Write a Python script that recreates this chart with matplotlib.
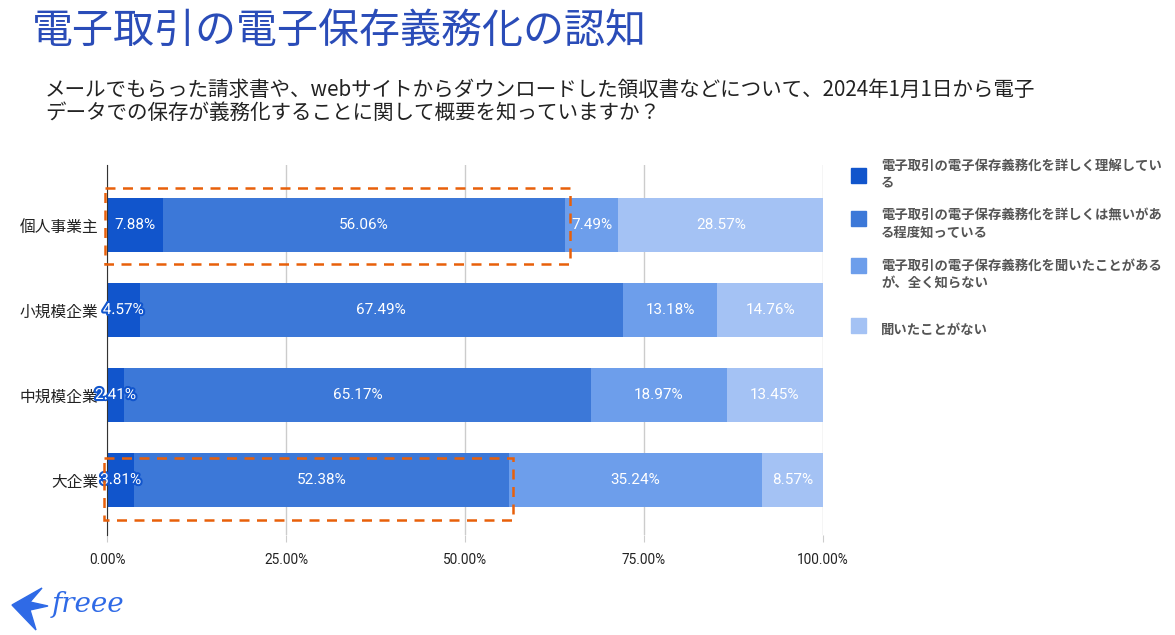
import matplotlib
matplotlib.use("Agg")
import matplotlib.pyplot as plt
import matplotlib.patheffects as pe
from matplotlib.patches import Rectangle, Polygon
import numpy as np

plt.rcParams['font.family'] = ['Noto Sans CJK JP', 'DejaVu Sans']

categories = ["個人事業主", "小規模企業", "中規模企業", "大企業"]
series_names = [
    "電子取引の電子保存義務化を詳しく理解してい\nる",
    "電子取引の電子保存義務化を詳しくは無いがあ\nる程度知っている",
    "電子取引の電子保存義務化を聞いたことがある\nが、全く知らない",
    "聞いたことがない",
]
values = [
    [7.88, 4.57, 2.41, 3.81],
    [56.06, 67.49, 65.17, 52.38],
    [7.49, 13.18, 18.97, 35.24],
    [28.57, 14.76, 13.45, 8.57],
]
colors = ["#1155CC", "#3C78D8", "#6D9EEB", "#A4C2F4"]
xticks = [0, 25, 50, 75, 100]
xtick_labels = ["0.00%", "25.00%", "50.00%", "75.00%", "100.00%"]

W, H = 1175, 635
fig = plt.figure(figsize=(W / 100, H / 100), dpi=100)
ax = fig.add_axes([107 / W, 1 - 535 / H, 716 / W, 370 / H])

y = np.arange(len(categories))
left = np.zeros(len(categories))
for vals, col in zip(values, colors):
    vals = np.array(vals)
    ax.barh(y, vals, left=left, height=0.635, color=col, zorder=3)
    for yi, v, l in zip(y, vals, left):
        effects = None
        if v < 6:
            effects = [pe.withStroke(linewidth=3, foreground="#1155CC")]
        ax.text(l + v / 2, yi, f"{v:.2f}%", ha="center", va="center",
                color="white", fontsize=11, family=["Roboto", "DejaVu Sans"],
                zorder=5, path_effects=effects)
    left += vals

ax.set_xlim(0, 100)
ax.set_ylim(3 + 55 / 85, -60 / 85)
ax.set_yticks(y)
ax.set_yticklabels(categories, fontsize=11.3, color="#222222")
ax.set_xticks(xticks)
ax.set_xticklabels(xtick_labels, fontsize=9.8, color="#222222",
                   family=["Roboto", "DejaVu Sans"])
ax.tick_params(axis="y", length=0, pad=6)
ax.tick_params(axis="x", length=5, color="#CCCCCC", pad=8)
ax.grid(axis="x", color="#CCCCCC", linewidth=1, zorder=0)
for s in ["top", "right", "bottom"]:
    ax.spines[s].set_visible(False)
ax.spines["left"].set_color("#333333")
ax.spines["left"].set_zorder(4)

# orange dashed highlight boxes
for (x0, x1, y0, y1) in [(-0.28, 64.66, -0.435, 0.459), (-0.42, 56.7, 2.741, 3.47)]:
    ax.add_patch(Rectangle((x0, y0), x1 - x0, y1 - y0, fill=False,
                           edgecolor="#E8600A", linewidth=1.8, linestyle=(0, (4, 3)),
                           zorder=6, clip_on=False))

# title and subtitle
fig.text(32 / W, 1 - 31 / H, "電子取引の電子保存義務化の認知", fontsize=29.5,
         color="#2A4CB8", va="center", ha="left")
fig.text(45 / W, 1 - 90 / H,
         "メールでもらった請求書や、webサイトからダウンロードした領収書などについて、2024年1月1日から電子",
         fontsize=14.8, color="#222222", va="center", ha="left")
fig.text(45 / W, 1 - 113 / H,
         "データでの保存が義務化することに関して概要を知っていますか？",
         fontsize=14.8, color="#222222", va="center", ha="left")

# legend
leg_sq_y = [175, 218, 265, 325]
leg_txt_y = [174, 224, 274, 330]
for name, col, sy, ty in zip(series_names, colors, leg_sq_y, leg_txt_y):
    fig.patches.append(Rectangle((851 / W, 1 - (sy + 8) / H), 15 / W, 15 / H,
                                 transform=fig.transFigure, color=col))
    fig.text(881 / W, 1 - ty / H, name, fontsize=9.6, color="#555555",
             fontweight="bold", va="center", ha="left", linespacing=1.25)

# freee logo
bird = Polygon([(12 / W, 1 - 605 / H), (42 / W, 1 - 588 / H), (30 / W, 1 - 602 / H),
                (48 / W, 1 - 606 / H), (30 / W, 1 - 610 / H), (36 / W, 1 - 630 / H)],
               closed=True, transform=fig.transFigure, color="#2F6AE6")
fig.patches.append(bird)
fig.text(52 / W, 1 - 604 / H, "freee", fontsize=20, color="#2F6AE6",
         style="italic", family=["DejaVu Serif"], va="center", ha="left")

fig.savefig("out.png", dpi=100)
